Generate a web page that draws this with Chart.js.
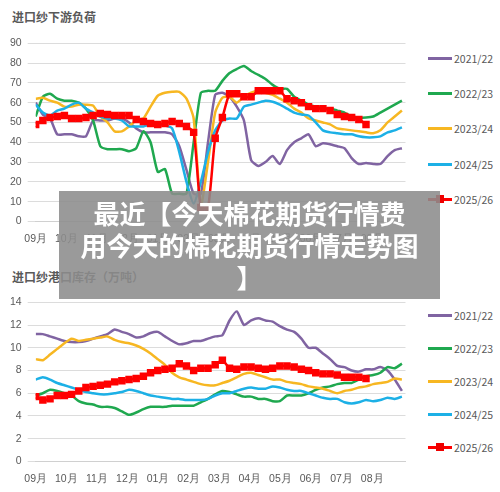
<!DOCTYPE html>
<html><head><meta charset="utf-8">
<script src="https://cdn.jsdelivr.net/npm/chart.js@4/dist/chart.umd.min.js"></script>
<style>
body{margin:0;width:500px;height:492px;background:#fff;position:relative;overflow:hidden;font-family:"Noto Sans CJK SC","Noto Sans",sans-serif}
.box{position:absolute}
.title{position:absolute;left:12px;font-size:12px;font-weight:bold;color:#595959}
.leg{position:absolute;left:428px;font-size:10.5px;color:#595959;display:flex;align-items:center}
.leg i{display:inline-block;width:24px;height:3px;margin-right:2px;position:relative}
.leg i b{position:absolute;left:8px;top:-3px;width:8px;height:8px;background:#e00}
.banner{position:absolute;left:59px;top:191px;width:381px;height:108px;background:rgba(140,140,140,0.88);color:#fff;font-weight:bold;font-size:26px;line-height:32px;text-align:center;padding-top:6px;box-sizing:border-box}
</style></head><body>
<div class="title" style="top:8px">进口纱下游负荷</div>
<div class="box" style="left:0;top:31px;width:412px;height:217px"><canvas id="c1"></canvas></div>
<div class="title" style="top:268px">进口纱港口库存（万吨）</div>
<div class="box" style="left:0;top:290px;width:412px;height:198px"><canvas id="c2"></canvas></div>
<div id="leg1"></div><div id="leg2"></div>
<div class="banner">最近【今天棉花期货行情费<br>用今天的棉花期货行情走势图<br>】</div>
<script>
const seasons = ['2021/22', '2022/23', '2023/24', '2024/25', '2025/26'];
const colors = ['#8064a2', '#1fa84f', '#f7b722', '#1cb0e6', '#ff0000'];
const months = ['09月','10月','11月','12月','01月','02月','03月','04月','05月','06月','07月','08月'];

// 进口纱下游负荷 (weekly)
const load2122 = [60,54,52,44,44,44,43,43,51,51,51,52,52,50,47,45,45,45,45,44,38,26,14,14,40,64,65,63,58,51,31,28,30,33,29,36,40,42,44,38,39.5,39,38,37,32,29,29.5,29,29,33,36,37];
const load2223 = [53,63,64.5,62,61,61,60,57,51,38,36.5,36.5,36.5,35.5,37,45.5,40,25,26.5,14,14,14,40,65,66,66,71,75,77,78.5,76,74,72,69,67,67,63,61,59,58,57,57,56,55,53,52.5,52.5,53,55,57,59,61];
const load2324 = [62,62.5,61,60,58,58,59,59,58.5,53,50,45.5,45.5,48,51,52,58,63.5,65,65.5,65.5,62,52,8,30,55,62.5,63,60,63,65,66,65,64,62,60,57,55,52,51,50,49,47,46.5,46,45.5,45,44.5,46,50,53,56];
const load2425 = [59,55,53.5,56,57,59,60,57,55,53,52,52,51,48,48,48,49,49,48.5,47,35,20,9,20,35,46,51,52,52,58,59,60,61,60.5,59,57,55,54,53.5,50,46,45,44.5,44,44,43,42.5,42.5,43,45,46,47.5];
const load2526 = [49,51,52.5,53,53.5,52,52,52.5,53.5,54.5,54,53.5,53.5,53.5,51.5,50.5,49.5,49,49.5,50.5,49.5,48,45,7,7,42,52.5,64.5,64.5,63,63,66,66,66,66,62,61,60,58,57,57,56,54,53,52.5,51.5,49];

// 进口纱港口库存 (万吨, weekly)
const stock2122 = [11.2,11.2,11.0,10.8,10.6,10.5,10.5,10.6,10.8,11.0,11.2,11.6,11.4,11.2,10.9,11.0,11.3,11.4,11.0,10.6,10.3,10.4,10.6,10.6,10.8,11.0,11.1,12.4,13.2,12.0,12.4,12.6,12.4,12.3,11.9,11.6,11.4,10.8,10.0,10.0,9.5,9.0,8.4,8.3,8.0,7.9,8.1,8.1,8.3,8.0,7.2,6.2];
const stock2223 = [5.8,6.0,6.3,6.2,6.0,5.8,5.3,5.1,5.0,4.8,4.8,4.7,4.4,4.1,4.3,4.6,4.8,4.8,4.8,4.9,4.9,4.9,4.9,5.2,5.5,5.9,6.2,6.1,5.9,5.7,5.7,5.5,5.5,5.3,5.3,5.8,5.8,5.8,6.0,6.3,6.5,6.6,6.8,6.9,6.9,7.2,7.5,7.6,7.8,8.3,8.2,8.6];
const stock2324 = [9.0,8.9,9.4,9.9,10.4,10.8,10.6,10.7,10.8,10.9,11.0,10.7,10.5,10.4,10.2,9.9,9.5,9.0,8.5,7.8,7.4,7.2,7.0,6.8,6.7,6.7,6.9,7.1,7.4,7.7,7.8,7.6,7.4,7.2,7.2,7.0,6.9,6.8,6.6,6.5,6.4,6.2,6.0,6.2,6.3,6.5,6.6,6.8,6.9,7.0,7.3,7.2];
const stock2425 = [7.2,7.4,7.2,6.9,6.7,6.5,6.3,6.1,6.0,5.9,5.9,6.0,6.1,6.3,6.2,6.0,5.8,5.7,5.6,5.5,5.5,5.4,5.4,5.4,5.5,5.8,6.0,6.0,6.2,6.4,6.5,6.4,6.4,6.6,6.5,6.3,6.2,6.2,6.0,5.8,5.6,5.5,5.5,5.2,5.1,5.2,5.4,5.3,5.4,5.6,5.5,5.7];
const stock2526 = [5.7,5.4,5.5,5.8,5.8,5.9,6.2,6.5,6.6,6.7,6.8,7.0,7.1,7.2,7.3,7.5,7.8,8.0,8.1,8.2,8.6,8.4,8.0,8.2,8.2,8.5,8.9,8.2,8.1,8.3,8.3,8.2,8.1,8.2,8.4,8.4,8.3,8.1,8.0,7.8,7.7,7.7,7.6,7.4,7.4,7.4,7.3];

const monthStep = 4.26;
const toPts = arr => arr.map((v, i) => ({ x: i, y: v }));

function makeChart(id, series, yMax, yStep) {
    new Chart(document.getElementById(id), {
        type: 'line',
        data: {
            datasets: series.map((s, k) => ({
                label: seasons[k],
                data: toPts(s),
                borderColor: colors[k],
                backgroundColor: colors[k],
                borderWidth: 2.5,
                tension: 0.2,
                pointRadius: k === 4 ? 3.5 : 0,
                pointStyle: 'rect',
                order: 4 - k
            }))
        },
        options: {
            responsive: true,
            maintainAspectRatio: false,
            animation: false,
            layout: { padding: { left: 4, right: 6, top: 6, bottom: 0 } },
            plugins: { legend: { display: false }, tooltip: { enabled: false } },
            scales: {
                x: {
                    type: 'linear', min: 0, max: 51.5,
                    afterBuildTicks: axis => { axis.ticks = months.map((m, i) => ({ value: i * monthStep })); },
                    ticks: { callback: (v, i) => months[i], color: '#595959', font: { size: 10.5 }, maxRotation: 0, autoSkip: false },
                    grid: { display: false },
                    border: { color: '#d0d0d0' }
                },
                y: {
                    min: 0, max: yMax,
                    ticks: { stepSize: yStep, color: '#595959', font: { size: 10.5 }, padding: 6 },
                    grid: { color: '#dcdcdc' },
                    border: { display: false }
                }
            }
        }
    });
}

makeChart('c1', [load2122, load2223, load2324, load2425, load2526], 90, 10);
makeChart('c2', [stock2122, stock2223, stock2324, stock2425, stock2526], 14, 2);

function legend(tops) {
    return seasons.map((s, k) => `<div class="leg" style="top:${tops[k]}px"><i style="background:${colors[k]}">${k === 4 ? '<b></b>' : ''}</i>${s}</div>`).join('');
}
document.getElementById('leg1').innerHTML = legend([51, 86, 121, 157, 192]);
document.getElementById('leg2').innerHTML = legend([308, 341, 374, 407, 440]);
</script>
</body></html>
